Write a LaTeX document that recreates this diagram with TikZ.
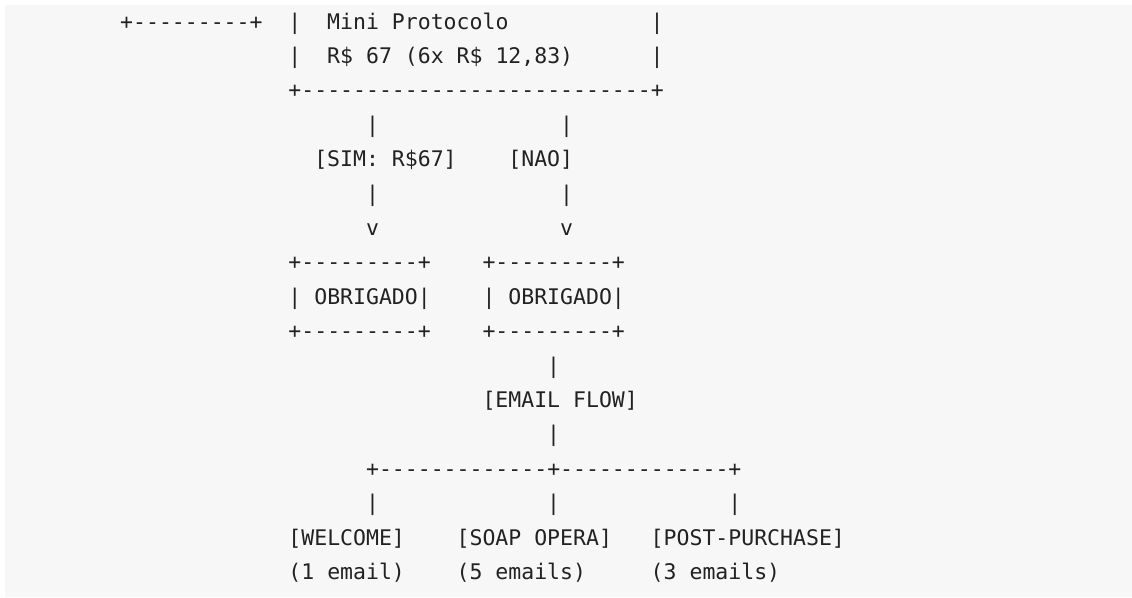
\documentclass[tikz,border=0pt]{standalone}
\usepackage{fontspec}
\setmonofont{DejaVu Sans Mono}
\definecolor{codebg}{HTML}{F7F7F7}
\definecolor{codefg}{HTML}{222222}
\tikzset{
  txt/.style={inner sep=0pt, outer sep=0pt, anchor=base west, text=codefg,
    font=\ttfamily\fontsize{21.5}{25}\selectfont},
  cell/.style 2 args={at={({120.2+#1*12.94},{-29-(#2-1)*34.4})}}
}
\begin{document}
\begin{tikzpicture}[x=1pt,y=1pt]
\useasboundingbox (0,0) rectangle (1132,-597);
\fill[codebg] (5,-5) rectangle (1132,-597);
% line 1-3: price box
\node[txt, cell={0}{1}]  (l1a) {+---------+};
\node[txt, cell={13}{1}] (l1b) {|};
\node[txt, cell={16}{1}] (title) {Mini Protocolo};
\node[txt, cell={41}{1}] (l1c) {|};
\node[txt, cell={13}{2}] (l2a) {|};
\node[txt, cell={16}{2}] (price) {R\$ 67 (6x R\$ 12,83)};
\node[txt, cell={41}{2}] (l2b) {|};
\node[txt, cell={13}{3}] (l3) {+---------------------------+};
% branches
\node[txt, cell={19}{4}] (l4a) {|};
\node[txt, cell={34}{4}] (l4b) {|};
\node[txt, cell={15}{5}] (sim) {[SIM: R\$67]};
\node[txt, cell={30}{5}] (nao) {[NAO]};
\node[txt, cell={19}{6}] (l6a) {|};
\node[txt, cell={34}{6}] (l6b) {|};
\node[txt, cell={19}{7}] (l7a) {v};
\node[txt, cell={34}{7}] (l7b) {v};
% obrigado boxes
\node[txt, cell={13}{8}]  (l8a) {+---------+};
\node[txt, cell={28}{8}]  (l8b) {+---------+};
\node[txt, cell={13}{9}]  (obr1) {| OBRIGADO|};
\node[txt, cell={28}{9}]  (obr2) {| OBRIGADO|};
\node[txt, cell={13}{10}] (l10a) {+---------+};
\node[txt, cell={28}{10}] (l10b) {+---------+};
% email flow
\node[txt, cell={33}{11}] (l11) {|};
\node[txt, cell={28}{12}] (flow) {[EMAIL FLOW]};
\node[txt, cell={33}{13}] (l13) {|};
\node[txt, cell={19}{14}] (l14) {+-------------+-------------+};
\node[txt, cell={19}{15}] (l15a) {|};
\node[txt, cell={33}{15}] (l15b) {|};
\node[txt, cell={47}{15}] (l15c) {|};
\node[txt, cell={13}{16}] (welcome) {[WELCOME]};
\node[txt, cell={26}{16}] (soap) {[SOAP OPERA]};
\node[txt, cell={41}{16}] (post) {[POST-PURCHASE]};
\node[txt, cell={13}{17}] (n1) {(1 email)};
\node[txt, cell={26}{17}] (n5) {(5 emails)};
\node[txt, cell={41}{17}] (n3) {(3 emails)};
\end{tikzpicture}
\end{document}
